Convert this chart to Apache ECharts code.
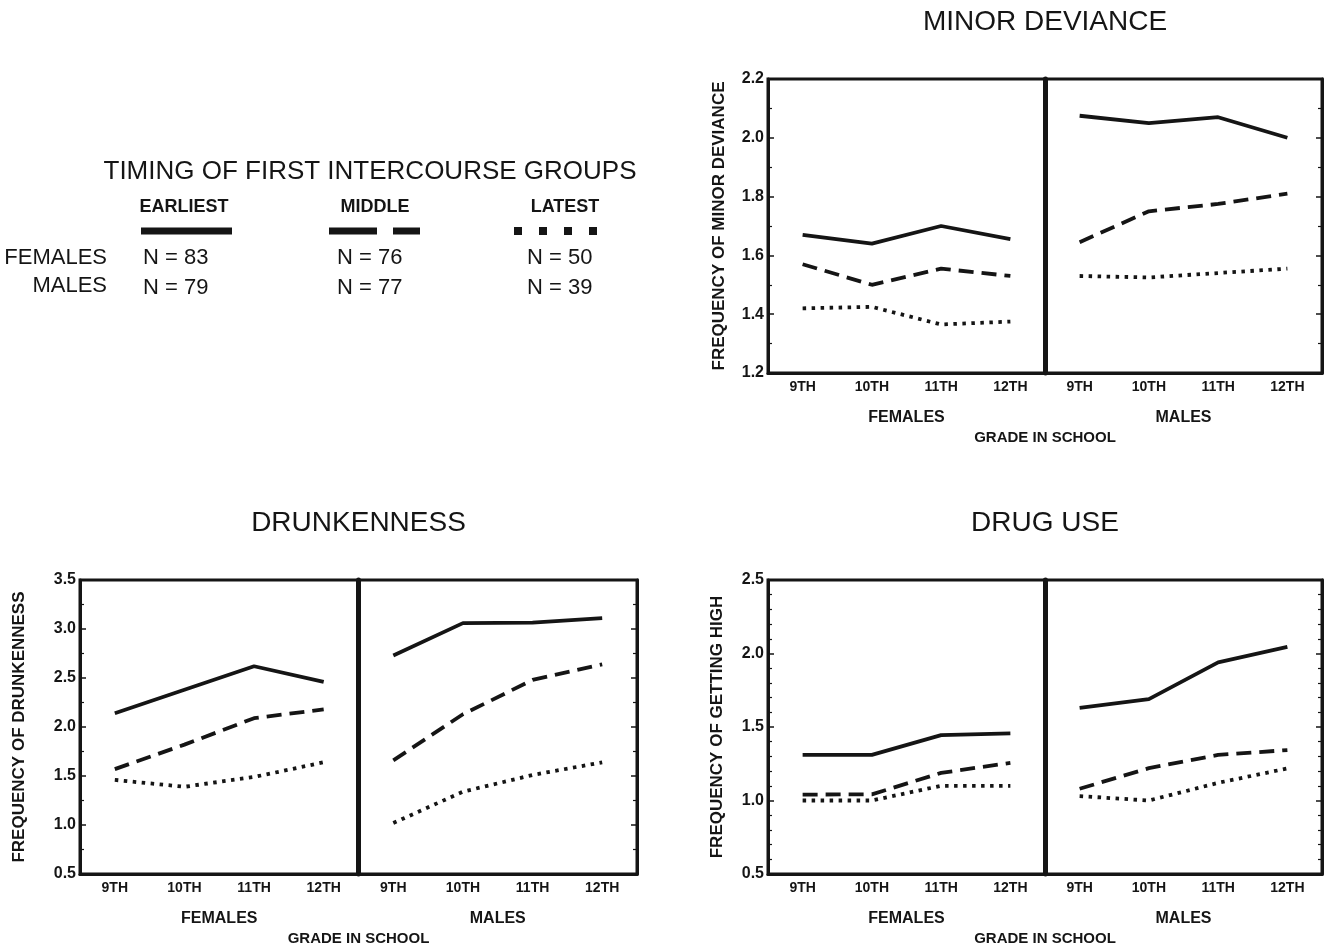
<!DOCTYPE html>
<html>
<head>
<meta charset="utf-8">
<script src="https://cdn.jsdelivr.net/npm/echarts@6/dist/echarts.min.js"></script>
<style>
  html, body { margin: 0; padding: 0; background: #fff; }
  #chart { width: 1327px; height: 946px; }
</style>
</head>
<body>
<div id="chart"></div>
<script>
const grades = ['9TH', '10TH', '11TH', '12TH']
const sexes = ['FEMALES', 'MALES']
const groups = ['EARLIEST', 'MIDDLE', 'LATEST']

// minor deviance
const minorFemEarliest = [1.67, 1.64, 1.70, 1.655]
const minorFemMiddle = [1.57, 1.50, 1.555, 1.53]
const minorFemLatest = [1.42, 1.425, 1.365, 1.375]
const minorMaleEarliest = [2.075, 2.05, 2.07, 2.0]
const minorMaleMiddle = [1.645, 1.75, 1.775, 1.81]
const minorMaleLatest = [1.53, 1.525, 1.54, 1.555]

// drunkenness
const drunkFemEarliest = [2.14, 2.38, 2.62, 2.46]
const drunkFemMiddle = [1.57, 1.82, 2.09, 2.18]
const drunkFemLatest = [1.46, 1.39, 1.49, 1.64]
const drunkMaleEarliest = [2.73, 3.06, 3.065, 3.11]
const drunkMaleMiddle = [1.66, 2.13, 2.48, 2.64]
const drunkMaleLatest = [1.02, 1.34, 1.51, 1.64]

// drug use
const drugFemEarliest = [1.31, 1.31, 1.445, 1.457]
const drugFemMiddle = [1.04, 1.042, 1.188, 1.256]
const drugFemLatest = [1.0, 1.0, 1.1, 1.1]
const drugMaleEarliest = [1.63, 1.69, 1.94, 2.045]
const drugMaleMiddle = [1.08, 1.22, 1.31, 1.343]
const drugMaleLatest = [1.03, 1.0, 1.12, 1.218]

// group sizes for the legend table
const femaleN = [83, 76, 50]
const maleN = [79, 77, 39]

const ink = '#151515'
const font = 'Liberation Sans'
const lineTypes = ['solid', [15, 8], [3.5, 5.5]]

const grids = []
const xAxes = []
const yAxes = []
const series = []
const graphics = []

function addPanel (p) {
  const half = p.width / 2
  const g = grids.length
  const y0 = yAxes.length
  grids.push({ left: p.left, top: p.top, width: half, height: p.height, show: true, borderColor: ink, borderWidth: 3 })
  grids.push({ left: p.left + half, top: p.top, width: half, height: p.height, show: true, borderColor: ink, borderWidth: 3 })
  sexes.forEach((sex, i) => {
    xAxes.push({
      type: 'category',
      gridIndex: g + i,
      data: grades,
      boundaryGap: true,
      name: sex,
      nameLocation: 'middle',
      nameGap: 37,
      nameTextStyle: { color: ink, fontFamily: font, fontWeight: 'bold', fontSize: 16 },
      axisLine: { lineStyle: { color: ink, width: 3 } },
      axisTick: { inside: true, alignWithLabel: true, length: 5, lineStyle: { color: ink, width: 1.5 } },
      axisLabel: { color: ink, fontFamily: font, fontWeight: 'bold', fontSize: 14, margin: 7 },
      splitLine: { show: false }
    })
  })
  const base = { type: 'value', min: p.min, max: p.max, interval: p.interval, splitLine: { show: false } }
  yAxes.push(Object.assign({}, base, {
    gridIndex: g,
    position: 'left',
    name: p.yName,
    nameLocation: 'middle',
    nameRotate: 90,
    nameGap: p.nameGap,
    nameTextStyle: { color: ink, fontFamily: font, fontWeight: 'bold', fontSize: 17 },
    axisLine: { show: true, lineStyle: { color: ink, width: 3 } },
    axisTick: { show: true, inside: true, length: 6, lineStyle: { color: ink, width: 1.5 } },
    minorTick: { show: true, splitNumber: p.minorSplit, length: 4, lineStyle: { color: ink, width: 1.2 } },
    axisLabel: { color: ink, fontFamily: font, fontWeight: 'bold', fontSize: 16, margin: 4, formatter: v => v.toFixed(1) }
  }))
  // divider between females and males
  yAxes.push(Object.assign({}, base, {
    gridIndex: g + 1,
    position: 'left',
    axisLine: { show: true, lineStyle: { color: ink, width: 5 } },
    axisTick: { show: false },
    axisLabel: { show: false }
  }))
  yAxes.push(Object.assign({}, base, {
    gridIndex: g + 1,
    position: 'right',
    axisLine: { show: true, lineStyle: { color: ink, width: 3 } },
    axisTick: { show: true, inside: true, length: 6, lineStyle: { color: ink, width: 1.5 } },
    minorTick: { show: true, splitNumber: p.minorSplit, length: 4, lineStyle: { color: ink, width: 1.2 } },
    axisLabel: { show: false }
  }))
  const sets = [p.females, p.males]
  sets.forEach((lines, i) => {
    lines.forEach((vals, k) => {
      series.push({
        name: sexes[i] + ' ' + groups[k],
        type: 'line',
        xAxisIndex: g + i,
        yAxisIndex: i === 0 ? y0 : y0 + 1,
        data: vals,
        symbol: 'none',
        silent: true,
        lineStyle: { color: ink, width: 3.8, type: lineTypes[k], cap: 'butt' },
        z: 3
      })
    })
  })
  graphics.push({
    type: 'text', x: p.left + p.width / 2, y: p.top - 57,
    style: { text: p.title, fill: ink, font: '28px "' + font + '"', textAlign: 'center', textVerticalAlign: 'middle' }
  })
  graphics.push({
    type: 'text', x: p.left + p.width / 2, y: p.top + p.height + 65,
    style: { text: 'GRADE IN SCHOOL', fill: ink, font: 'bold 15px "' + font + '"', textAlign: 'center', textVerticalAlign: 'middle' }
  })
}

addPanel({
  title: 'MINOR DEVIANCE', yName: 'FREQUENCY OF MINOR DEVIANCE', nameGap: 40,
  left: 768, top: 79, width: 554, height: 294,
  min: 1.2, max: 2.2, interval: 0.2, minorSplit: 2,
  females: [minorFemEarliest, minorFemMiddle, minorFemLatest],
  males: [minorMaleEarliest, minorMaleMiddle, minorMaleLatest]
})
addPanel({
  title: 'DRUNKENNESS', yName: 'FREQUENCY OF DRUNKENNESS', nameGap: 52,
  left: 80, top: 580, width: 557, height: 294,
  min: 0.5, max: 3.5, interval: 0.5, minorSplit: 2,
  females: [drunkFemEarliest, drunkFemMiddle, drunkFemLatest],
  males: [drunkMaleEarliest, drunkMaleMiddle, drunkMaleLatest]
})
addPanel({
  title: 'DRUG USE', yName: 'FREQUENCY OF GETTING HIGH', nameGap: 42,
  left: 768, top: 580, width: 554, height: 294,
  min: 0.5, max: 2.5, interval: 0.5, minorSplit: 5,
  females: [drugFemEarliest, drugFemMiddle, drugFemLatest],
  males: [drugMaleEarliest, drugMaleMiddle, drugMaleLatest]
})

// legend table, top left
const txt = (text, x, y, size, align, weight) => ({
  type: 'text', x: x, y: y,
  style: { text: text, fill: ink, font: (weight || 'normal') + ' ' + size + 'px "' + font + '"', textAlign: align, textVerticalAlign: 'middle' }
})
graphics.push(txt('TIMING OF FIRST INTERCOURSE GROUPS', 370, 172, 26, 'center'))
const colX = [184, 375, 565]
const nX = [143, 337, 527]
groups.forEach((gName, k) => {
  graphics.push(txt(gName, colX[k], 207, 18, 'center', 'bold'))
  graphics.push(txt('N = ' + femaleN[k], nX[k], 258, 22, 'left'))
  graphics.push(txt('N = ' + maleN[k], nX[k], 288, 22, 'left'))
})
graphics.push(txt('FEMALES', 107, 258, 22, 'right'))
graphics.push(txt('MALES', 107, 286, 22, 'right'))
const sample = (x1, x2) => ({
  type: 'line', shape: { x1: x1, y1: 231, x2: x2, y2: 231 },
  style: { stroke: ink, lineWidth: 7 }
})
graphics.push(sample(141, 232))
graphics.push(sample(329, 377))
graphics.push(sample(393, 420))
;[518, 543, 568, 593].forEach(x => {
  graphics.push({ type: 'rect', shape: { x: x - 4, y: 227, width: 8, height: 8 }, style: { fill: ink } })
})

const chart = echarts.init(document.getElementById('chart'), null, { renderer: 'canvas' })
chart.setOption({
  backgroundColor: '#ffffff',
  animation: false,
  grid: grids,
  xAxis: xAxes,
  yAxis: yAxes,
  series: series,
  graphic: graphics
})
</script>
</body>
</html>
